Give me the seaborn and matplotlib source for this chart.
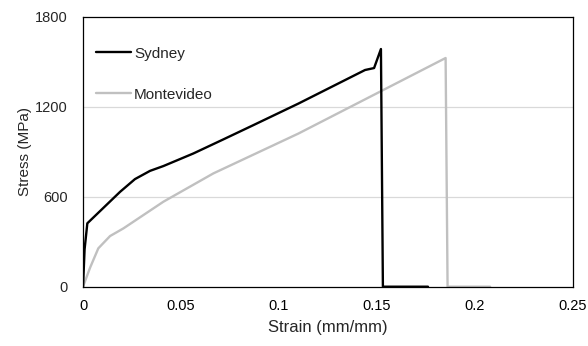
import matplotlib
matplotlib.use("Agg")
import matplotlib.pyplot as plt
import seaborn as sns
import pandas as pd

sydney_strain = [0, 0.0008, 0.0022, 0.0189, 0.0265, 0.0342, 0.041, 0.0563, 0.0716, 0.0869, 0.1099, 0.1439, 0.1485, 0.152, 0.153, 0.176]
sydney_stress = [0, 250, 423, 633, 718, 773, 805, 889, 983, 1078, 1222, 1446, 1459, 1586, 0, 0]
monte_strain = [0, 0.0036, 0.0078, 0.0138, 0.0206, 0.041, 0.0665, 0.1099, 0.185, 0.186, 0.2077]
monte_stress = [0, 127, 256, 338, 389, 567, 756, 1022, 1526, 0, 0]
series_names = ["Sydney", "Montevideo"]
x_ticks = [0, 0.05, 0.1, 0.15, 0.2, 0.25]
x_tick_labels = ["0", "0.05", "0.1", "0.15", "0.2", "0.25"]
y_ticks = [0, 600, 1200, 1800]

sns.set_style("white")
plt.rcParams["font.family"] = ["Liberation Sans", "DejaVu Sans"]

df = pd.concat([
    pd.DataFrame({"strain": sydney_strain, "stress": sydney_stress, "city": series_names[0]}),
    pd.DataFrame({"strain": monte_strain, "stress": monte_stress, "city": series_names[1]}),
])

fig = plt.figure(figsize=(5.88, 3.46), dpi=100)
ax = fig.add_axes([0.1412, 0.1714, 0.8333, 0.7796])
palette = {"Sydney": "#000000", "Montevideo": "#c0c0c0"}
sns.lineplot(data=df, x="strain", y="stress", hue="city", palette=palette,
             sort=False, estimator=None, units="city", linewidth=1.7, ax=ax,
             hue_order=["Montevideo", "Sydney"])

ax.set_xlim(0, 0.25)
ax.set_ylim(0, 1800)
ax.set_xticks(x_ticks)
ax.set_xticklabels(x_tick_labels)
ax.set_yticks(y_ticks)
for y in [600, 1200]:
    ax.axhline(y, color="#d9d9d9", linewidth=0.9, zorder=0)
ax.tick_params(axis="x", direction="out", length=3.6, width=0.8, colors="black", labelsize=10.5, pad=5)
ax.tick_params(axis="y", length=0, labelsize=10.5, pad=11)
for s in ax.spines.values():
    s.set_color("black")
    s.set_linewidth(0.9)
ax.set_xlabel("Strain (mm/mm)", fontsize=12, labelpad=5)
ax.set_ylabel("Stress (MPa)", fontsize=11, labelpad=2.5)

handles, labels = ax.get_legend_handles_labels()
order = [labels.index("Sydney"), labels.index("Montevideo")]
ax.legend([handles[i] for i in order], [labels[i] for i in order],
          loc="upper left", bbox_to_anchor=(0.004, 0.93), frameon=False,
          fontsize=11, handlelength=2.3, handletextpad=0.2, labelspacing=1.78,
          borderaxespad=0.3)

fig.savefig("out.png", dpi=100)
